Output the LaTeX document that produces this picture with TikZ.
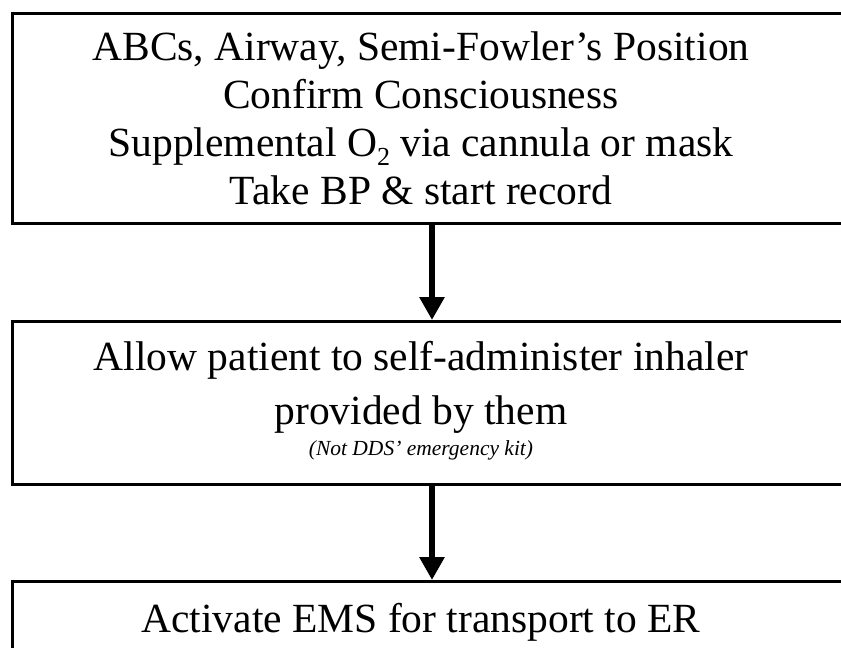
\documentclass[tikz,border=0pt]{standalone}
\usepackage{fontspec}
\setmainfont{Liberation Serif}
\usetikzlibrary{arrows.meta}
\newcommand{\mysubtwo}{\raisebox{-0.22em}{\fontsize{26}{26}\selectfont 2}}
\tikzset{
  boxst/.style={draw=black, line width=3pt, rectangle, inner sep=0pt, anchor=north west, minimum width=900pt},
  bigtext/.style={anchor=base, inner sep=0pt, font=\fontsize{41.5}{48}\selectfont},
  smalltext/.style={anchor=base, inner sep=0pt, font=\fontsize{21.5}{24}\selectfont\itshape},
  arr/.style={line width=6pt, -{Triangle[length=23pt,width=24pt]}}
}
\begin{document}
\begin{tikzpicture}[x=1pt,y=-1pt]
\useasboundingbox (0,0) rectangle (841,648);
\clip (0,0) rectangle (841,648);
\fill[white] (0,0) rectangle (841,648);
\node[boxst, minimum height=210pt] (b1) at (11,12) {};
\node[boxst, minimum height=163pt] (b2) at (11,320) {};
\node[boxst, minimum height=120pt] (b3) at (11,580) {};
\node[bigtext] (t11) at (421,60) {ABCs, Airway, Semi-Fowler’s Position};
\node[bigtext] (t12) at (421,108) {Confirm Consciousness};
\node[bigtext] (t13) at (421,156) {Supplemental O\mysubtwo{} via cannula or mask};
\node[bigtext] (t14) at (421,204) {Take BP \& start record};
\node[bigtext] (t21) at (421,370) {Allow patient to self-administer inhaler};
\node[bigtext] (t22) at (421,424) {provided by them};
\node[smalltext] (t23) at (421,455) {(Not DDS’ emergency kit)};
\node[bigtext] (t31) at (421,632) {Activate EMS for transport to ER};
\coordinate (ax) at (432,0);
\draw[arr] (b1.south -| ax) -- (b2.north -| ax);
\draw[arr] (b2.south -| ax) -- (b3.north -| ax);
\end{tikzpicture}
\end{document}
